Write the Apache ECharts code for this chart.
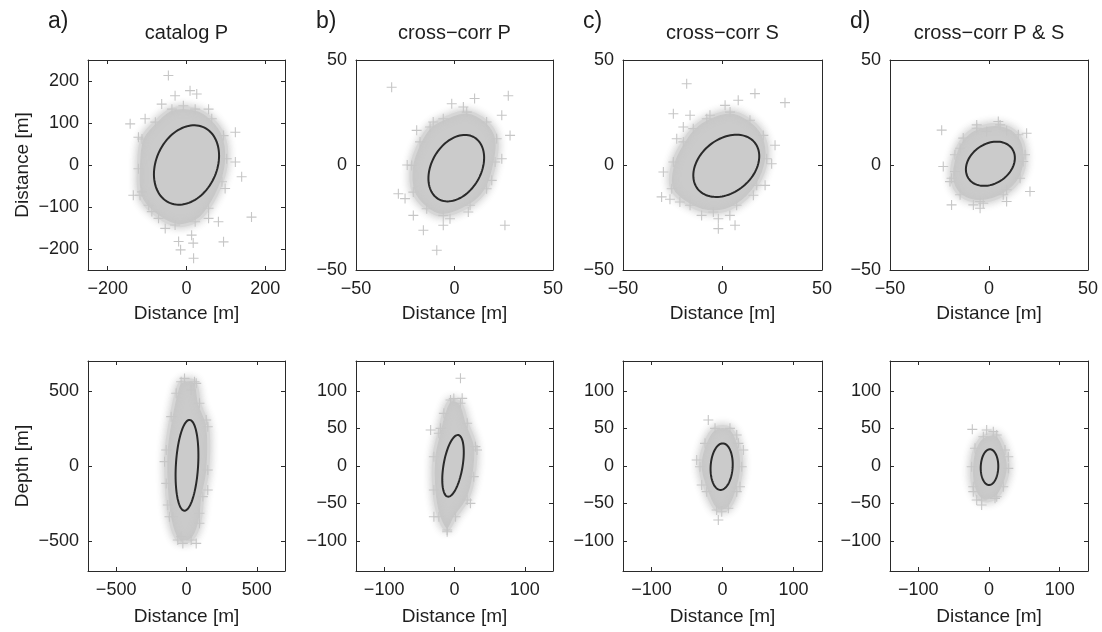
<!DOCTYPE html>
<html>
<head>
<meta charset="utf-8">
<script src="https://cdn.jsdelivr.net/npm/echarts@6/dist/echarts.min.js"></script>
<style>html,body{margin:0;padding:0;background:#fff;}#chart{width:1102px;height:632px;}</style>
</head>
<body>
<div id="chart"></div>
<script>
// ---------- DATA ----------
const panelLetters = ['a)', 'b)', 'c)', 'd)'];
const panelTitles = ['catalog P', 'cross\u2212corr P', 'cross\u2212corr S', 'cross\u2212corr P & S'];

// tick values
const ticksTopAX = [-200, 0, 200];
const ticksTopAY = [-200, -100, 0, 100, 200];
const ticksTopX = [-50, 0, 50];
const ticksTopY = [-50, 0, 50];
const ticksBotAX = [-500, 0, 500];
const ticksBotAY = [-500, 0, 500];
const ticksBotX = [-100, 0, 100];
const ticksBotY = [-100, -50, 0, 50, 100];

// error ellipses: [centerX, centerY, semiMajor, semiMinor, angleDeg]
const ellTopA = [0, 0, 100, 76, 60];
const ellTopB = [0.9, -1.5, 17.3, 12.3, 55];
const ellTopC = [1.9, -0.4, 18.1, 12.9, 35];
const ellTopD = [0.7, 0.6, 13.1, 9.6, 29];
const ellBotA = [3.5, 4.5, 303, 79, 86.4];
const ellBotB = [-2.1, 0.2, 41.7, 13.5, 79.5];
const ellBotC = [-1.2, -0.9, 31.1, 15.5, 86.3];
const ellBotD = [0.7, -1.5, 23.8, 12.4, 88];

// dense cloud outlines [x, y]
const cloudTopA = [[-37,133],[22,133],[64,110],[94,70],[102,15],[90,-40],[56,-103],[22,-135],[-29,-143],[-88,-111],[-118,-72],[-122,-9],[-113,62],[-79,102]];
const cloudTopB = [[-5.7,22],[6.2,25.2],[16.3,20.5],[21.4,12.5],[20.6,1.4],[16.3,-11.3],[7.9,-19.2],[-5.7,-24],[-14.1,-20.8],[-20.9,-12.9],[-21.7,-0.2],[-17.5,11],[-12.4,18.1]];
const cloudTopC = [[-7.9,22],[3.8,25.2],[13.8,21.3],[20.5,14.1],[22.2,3],[17.2,-9.7],[7.1,-19.2],[-4.6,-22.4],[-16.3,-19.2],[-25.5,-11.3],[-24.7,1.4],[-19.7,11],[-14.7,17.3]];
const cloudTopD = [[-6.2,17.5],[5.6,19.1],[14.8,14.4],[18.2,4.9],[15.7,-6.3],[7.2,-14.2],[-4.5,-17.4],[-14.6,-14.2],[-18.9,-6.3],[-17.2,4.9],[-13,12.8]];
const cloudBotA = [[-38,562],[57,562],[92,418],[151,262],[151,-27],[116,-204],[92,-382],[33,-493],[-62,-493],[-121,-338],[-144,-116],[-144,107],[-109,329],[-73,485]];
const cloudBotB = [[-5.7,88],[8.5,83.6],[18,57],[29.7,25.8],[27.3,-14.2],[18,-45.3],[1.4,-67.6],[-10.4,-85.3],[-22.2,-67.6],[-29.3,-32],[-29.3,12.4],[-22.2,43.6],[-15.1,70.2]];
const cloudBotC = [[-10.5,50.2],[10.5,50.2],[22.3,30.2],[27,-0.9],[20,-34.2],[8.2,-56.4],[-8.2,-58.7],[-22.2,-34.2],[-31.6,-0.9],[-24.6,30.2]];
const cloudBotD = [[-8,39],[10.9,41.3],[22.6,21.3],[27.3,-3.1],[20.2,-27.6],[8.5,-43.1],[-10.4,-45.3],[-22.2,-27.6],[-24.5,-0.9],[-19.8,23.6]];

// scattered individual locations (+) outside the dense cloud
const plusTopA = [[-46,213],[9,177],[26,169],[-63,145],[-29,165],[-8,141],[56,133],[-143,98],[-105,110],[-122,66],[124,78],[124,7],[140,-28],[98,-56],[165,-124],[81,-135],[-20,-182],[13,-167],[17,-186],[94,-183],[18,-222],[-15,-202],[-135,-72],[-113,-64],[-96,-96],[-71,-127],[56,-127],[-54,-151]];
const plusTopB = [[-31.9,37],[27.3,33],[10.2,31.7],[-1.4,29.2],[4.5,27.6],[24,23.7],[28.2,14.1],[-10.8,20.5],[-19.2,16.5],[24,3],[18.9,-7.3],[-24,0],[-28.5,-13.7],[-25.1,-16],[-20.9,-24],[-15.8,-31.1],[-5.7,-28.7],[-2.3,-25.6],[7,-22.4],[25.6,-28.7],[-9,-40.6]];
const plusTopC = [[-18,38.7],[16.3,34],[31.4,29.7],[7.9,30.8],[1.3,28.4],[-24.7,24.4],[-16.3,23.7],[-19.7,18.1],[-6.3,23.7],[-23,12.5],[26.4,9.4],[24.7,0.6],[21.4,-9.7],[-29.7,-3.3],[-30.6,-15.2],[-26.4,-16.3],[-21.4,-17.6],[15.5,-14.4],[-10.5,-24],[-2.1,-25.6],[-2.1,-30.3],[6.3,-28.7],[3.7,-24]];
const plusTopD = [[-23.9,16.6],[4.7,20.7],[-6.2,19.1],[19,15.1],[-1.2,16],[8.9,16.3],[-14.6,8],[-23.1,-0.7],[-17.2,-3.1],[-19.7,-7.9],[20.7,-12.6],[-18.9,-19],[-7.9,-19],[-2.9,-18.2],[8.9,-17.4],[8.9,-11.8],[17.3,1.7],[-4.5,-20.6]];
const plusBotA = [[-14,584],[69,551],[33,507],[140,307],[151,-160],[-156,29],[-97,-338],[-38,-471],[69,-516],[-26,-516],[92,-315],[-133,-260]];
const plusBotB = [[8.5,117],[10.9,90.2],[-1,90],[-33.9,48],[-19.8,50.2],[32,21.3],[22.6,-49.8],[-29.3,-67.6],[-10.4,-87.6]];
const plusBotC = [[-20,61.3],[29.3,21.3],[-5.9,-72],[-1.1,-61],[24.6,-27.6],[-36.3,8],[-29.3,-25.3],[20,41.3]];
const plusBotD = [[-23.6,48.9],[-3.3,48],[6.1,45.8],[-10.4,-52],[-17.4,-45.3],[10.9,-40.9],[27.3,12.4],[-22.2,-34.2]];

// ---------- LAYOUT ----------
const FONT = '"Liberation Sans", Arial, Helvetica, sans-serif';
const TXT = '#1e1e1e';
const colLeft = [88, 356, 623, 890];
const colWidth = [197, 197, 199, 198];
const rowTop = [60, 361];
const rowH = 210;

const panels = [
  {r:0,c:0,xr:[-250,250],yr:[-250,250],xt:ticksTopAX,yt:ticksTopAY,cloud:cloudTopA,plus:plusTopA,ell:ellTopA,yName:'Distance [m]'},
  {r:0,c:1,xr:[-50,50],yr:[-50,50],xt:ticksTopX,yt:ticksTopY,cloud:cloudTopB,plus:plusTopB,ell:ellTopB},
  {r:0,c:2,xr:[-50,50],yr:[-50,50],xt:ticksTopX,yt:ticksTopY,cloud:cloudTopC,plus:plusTopC,ell:ellTopC},
  {r:0,c:3,xr:[-50,50],yr:[-50,50],xt:ticksTopX,yt:ticksTopY,cloud:cloudTopD,plus:plusTopD,ell:ellTopD},
  {r:1,c:0,xr:[-700,700],yr:[-700,700],xt:ticksBotAX,yt:ticksBotAY,cloud:cloudBotA,plus:plusBotA,ell:ellBotA,yName:'Depth [m]'},
  {r:1,c:1,xr:[-140,140],yr:[-140,140],xt:ticksBotX,yt:ticksBotY,cloud:cloudBotB,plus:plusBotB,ell:ellBotB},
  {r:1,c:2,xr:[-140,140],yr:[-140,140],xt:ticksBotX,yt:ticksBotY,cloud:cloudBotC,plus:plusBotC,ell:ellBotC},
  {r:1,c:3,xr:[-140,140],yr:[-140,140],xt:ticksBotX,yt:ticksBotY,cloud:cloudBotD,plus:plusBotD,ell:ellBotD}
];

const PLUS = 'path://M4.45,0H5.55V4.45H10V5.55H5.55V10H4.45V5.55H0V4.45H4.45Z';
const fmt = v => String(v).replace('-', '\u2212');
const lineStyle = {color: '#2a2a2a', width: 1};

const grids = [], xAxes = [], yAxes = [], series = [];
panels.forEach((p, i) => {
  grids.push({left: colLeft[p.c], top: rowTop[p.r], width: colWidth[p.c], height: rowH, containLabel: false});
  const baseX = {type: 'value', gridIndex: i, min: p.xr[0], max: p.xr[1], splitLine: {show: false},
    axisLine: {show: true, onZero: false, lineStyle}, axisTick: {show: true, inside: true, length: 4, customValues: p.xt, lineStyle}};
  const baseY = {type: 'value', gridIndex: i, min: p.yr[0], max: p.yr[1], splitLine: {show: false},
    axisLine: {show: true, onZero: false, lineStyle}, axisTick: {show: true, inside: true, length: 4, customValues: p.yt, lineStyle}};
  xAxes.push(Object.assign({}, baseX, {position: 'bottom',
    axisLabel: {customValues: p.xt, formatter: fmt, fontFamily: FONT, fontSize: 18, color: TXT, margin: 10},
    name: 'Distance [m]', nameLocation: 'middle', nameGap: p.r === 0 ? 34 : 36, nameTextStyle: {fontFamily: FONT, fontSize: 19, color: TXT}}));
  xAxes.push(Object.assign({}, baseX, {position: 'top', axisLabel: {show: false}}));
  const yl = Object.assign({}, baseY, {position: 'left',
    axisLabel: {customValues: p.yt, formatter: fmt, fontFamily: FONT, fontSize: 18, color: TXT, margin: 9}});
  if (p.yName) Object.assign(yl, {name: p.yName, nameLocation: 'middle', nameGap: 56, nameTextStyle: {fontFamily: FONT, fontSize: 19, color: TXT}});
  yAxes.push(yl);
  yAxes.push(Object.assign({}, baseY, {position: 'right', axisLabel: {show: false}}));
  const xi = 2 * i, yi = 2 * i;
  const cloud = p.cloud;
  series.push({type: 'custom', xAxisIndex: xi, yAxisIndex: yi, clip: true, z: 1, silent: true,
    data: cloud, encode: {x: 0, y: 1},
    renderItem: (params, api) => {
      if (params.dataIndex !== 0) return null;
      return {type: 'polygon', shape: {points: cloud.map(pt => api.coord(pt)), smooth: 0.35},
        style: {fill: '#cbcbcb', stroke: '#d6d6d6', lineWidth: 3, shadowBlur: 8, shadowColor: 'rgba(190,190,190,0.9)'}};
    }});
  series.push({type: 'scatter', xAxisIndex: xi, yAxisIndex: yi, z: 2, silent: true, symbol: PLUS, symbolSize: 10,
    itemStyle: {color: '#c6c6c6', opacity: 1}, data: p.plus.concat(cloud)});
  series.push({type: 'custom', xAxisIndex: xi, yAxisIndex: yi, clip: true, z: 3, silent: true,
    data: [p.ell], encode: {x: 0, y: 1},
    renderItem: (params, api) => {
      const cx = api.value(0), cy = api.value(1), a = api.value(2), b = api.value(3), ang = api.value(4) * Math.PI / 180;
      const pts = [];
      for (let k = 0; k < 96; k++) {
        const t = k / 96 * 2 * Math.PI, dx = a * Math.cos(t), dy = b * Math.sin(t);
        pts.push(api.coord([cx + dx * Math.cos(ang) - dy * Math.sin(ang), cy + dx * Math.sin(ang) + dy * Math.cos(ang)]));
      }
      return {type: 'polygon', shape: {points: pts}, style: {fill: 'none', stroke: '#2a2a2a', lineWidth: 2}};
    }});
});

const graphics = [];
for (let c = 0; c < 4; c++) {
  const cx = colLeft[c] + colWidth[c] / 2;
  graphics.push({type: 'text', x: cx, y: 33, style: {text: panelTitles[c], font: '20px ' + FONT, fill: TXT, align: 'center', verticalAlign: 'middle'}});
  graphics.push({type: 'text', x: colLeft[c] - 40, y: 22, style: {text: panelLetters[c], font: '23px ' + FONT, fill: TXT, align: 'left', verticalAlign: 'middle'}});
}

const chart = echarts.init(document.getElementById('chart'), null, {renderer: 'canvas'});
chart.setOption({
  animation: false,
  backgroundColor: '#ffffff',
  grid: grids,
  xAxis: xAxes,
  yAxis: yAxes,
  series: series,
  graphic: graphics
});
</script>
</body>
</html>
